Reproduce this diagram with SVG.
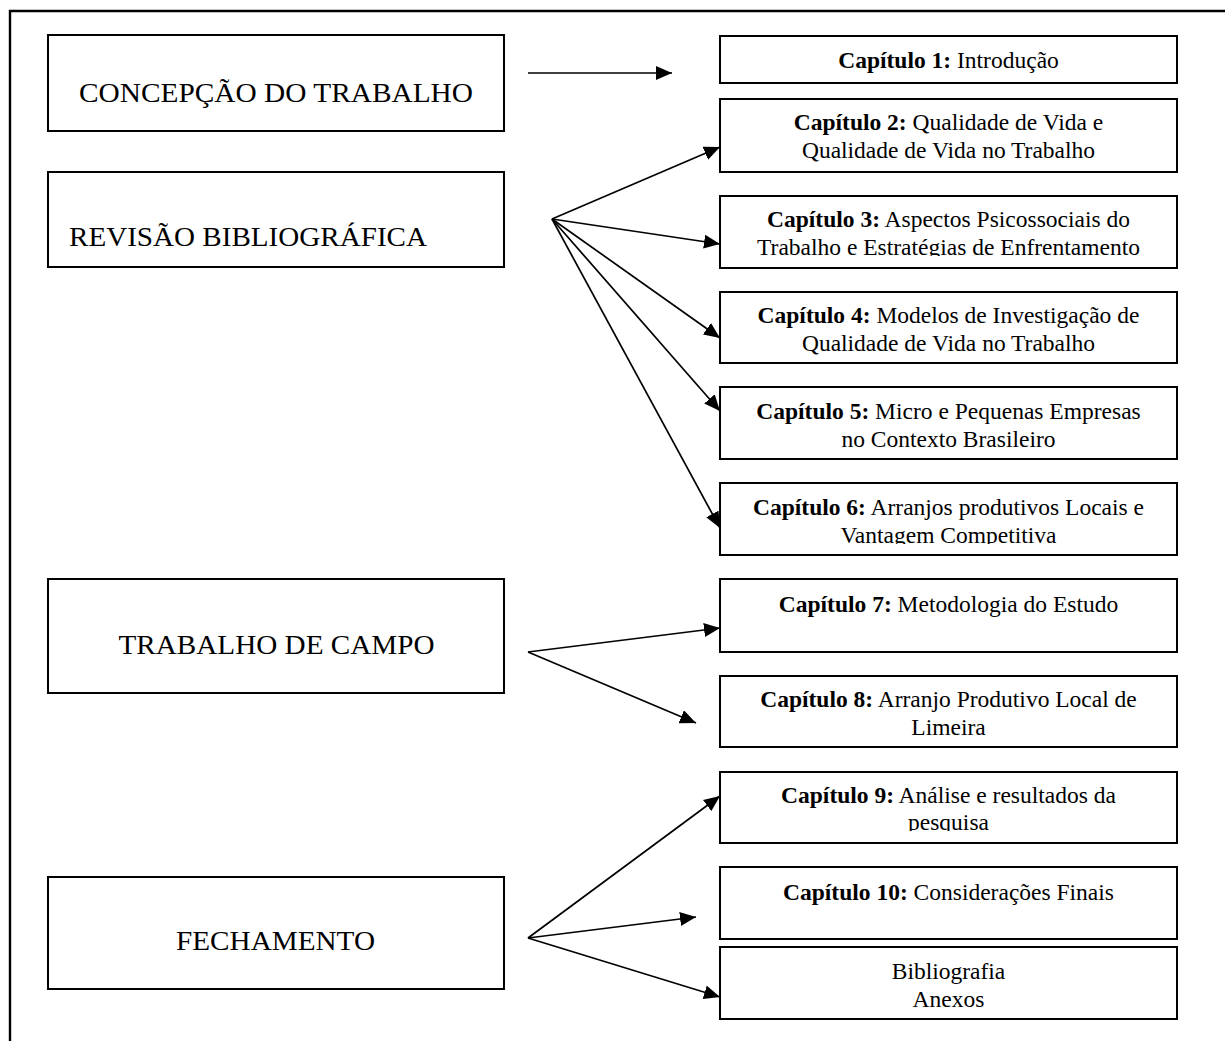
<svg xmlns="http://www.w3.org/2000/svg" width="1225" height="1041" viewBox="0 0 1225 1041">
<style>
.box{fill:#fff;stroke:#000;stroke-width:2}
.title{font-family:"Liberation Serif","Times New Roman",serif;font-size:27px;fill:#000}
.ch{font-family:"Liberation Serif","Times New Roman",serif;font-size:23.5px;text-anchor:middle;fill:#000}
.b{font-weight:bold}
.conn line{stroke:#000;stroke-width:1.7;marker-end:url(#ah)}
</style>
<defs>
<marker id="ah" viewBox="0 0 16 14" refX="16" refY="7" markerWidth="16" markerHeight="14" markerUnits="userSpaceOnUse" orient="auto">
<path d="M0,0 L16,7 L0,14 z" fill="#000"/>
</marker>
<clipPath id="clip3"><rect x="720" y="196" width="457" height="60"/></clipPath>
<clipPath id="clip6"><rect x="720" y="483" width="457" height="61"/></clipPath>
<clipPath id="clip9"><rect x="720" y="772" width="457" height="59"/></clipPath>
</defs>
<rect width="1225" height="1041" fill="#fff"/>
<path d="M10,1041 V11 H1225" fill="none" stroke="#000" stroke-width="2.4"/>

<g id="concepcao">
<rect class="box" x="48" y="35" width="456" height="96"/>
<text class="title" x="79" y="102" textLength="394" lengthAdjust="spacingAndGlyphs">CONCEPÇÃO DO TRABALHO</text>
</g>
<g id="revisao">
<rect class="box" x="48" y="172" width="456" height="95"/>
<text class="title" x="69" y="246" textLength="358" lengthAdjust="spacingAndGlyphs">REVISÃO BIBLIOGRÁFICA</text>
</g>
<g id="campo">
<rect class="box" x="48" y="579" width="456" height="114"/>
<text class="title" x="118.5" y="654" textLength="316" lengthAdjust="spacingAndGlyphs">TRABALHO DE CAMPO</text>
</g>
<g id="fechamento">
<rect class="box" x="48" y="877" width="456" height="112"/>
<text class="title" x="176" y="950" textLength="199" lengthAdjust="spacingAndGlyphs">FECHAMENTO</text>
</g>

<g id="cap1">
<rect class="box" x="720" y="36" width="457" height="47"/>
<text class="ch" x="948.5" y="68"><tspan class="b">Capítulo 1:</tspan> Introdução</text>
</g>
<g id="cap2">
<rect class="box" x="720" y="99" width="457" height="73"/>
<text class="ch" x="948.5" y="130"><tspan class="b">Capítulo 2:</tspan> Qualidade de Vida e</text>
<text class="ch" x="948.5" y="158">Qualidade de Vida no Trabalho</text>
</g>
<g id="cap3">
<rect class="box" x="720" y="196" width="457" height="72"/>
<g clip-path="url(#clip3)">
<text class="ch" x="948.5" y="227"><tspan class="b">Capítulo 3:</tspan> Aspectos Psicossociais do</text>
<text class="ch" x="948.5" y="255">Trabalho e Estratégias de Enfrentamento</text>
</g>
</g>
<g id="cap4">
<rect class="box" x="720" y="292" width="457" height="71"/>
<text class="ch" x="948.5" y="323"><tspan class="b">Capítulo 4:</tspan> Modelos de Investigação de</text>
<text class="ch" x="948.5" y="351">Qualidade de Vida no Trabalho</text>
</g>
<g id="cap5">
<rect class="box" x="720" y="387" width="457" height="72"/>
<text class="ch" x="948.5" y="419"><tspan class="b">Capítulo 5:</tspan> Micro e Pequenas Empresas</text>
<text class="ch" x="948.5" y="447">no Contexto Brasileiro</text>
</g>
<g id="cap6">
<rect class="box" x="720" y="483" width="457" height="72"/>
<g clip-path="url(#clip6)">
<text class="ch" x="948.5" y="515"><tspan class="b">Capítulo 6:</tspan> Arranjos produtivos Locais e</text>
<text class="ch" x="948.5" y="543">Vantagem Competitiva</text>
</g>
</g>
<g id="cap7">
<rect class="box" x="720" y="579" width="457" height="73"/>
<text class="ch" x="948.5" y="612"><tspan class="b">Capítulo 7:</tspan> Metodologia do Estudo</text>
</g>
<g id="cap8">
<rect class="box" x="720" y="676" width="457" height="71"/>
<text class="ch" x="948.5" y="707"><tspan class="b">Capítulo 8:</tspan> Arranjo Produtivo Local de</text>
<text class="ch" x="948.5" y="735">Limeira</text>
</g>
<g id="cap9">
<rect class="box" x="720" y="772" width="457" height="71"/>
<g clip-path="url(#clip9)">
<text class="ch" x="948.5" y="803"><tspan class="b">Capítulo 9:</tspan> Análise e resultados da</text>
<text class="ch" x="948.5" y="830">pesquisa</text>
</g>
</g>
<g id="cap10">
<rect class="box" x="720" y="867" width="457" height="72"/>
<text class="ch" x="948.5" y="900"><tspan class="b">Capítulo 10:</tspan> Considerações Finais</text>
</g>
<g id="biblio">
<rect class="box" x="720" y="947" width="457" height="72"/>
<text class="ch" x="948.5" y="979">Bibliografia</text>
<text class="ch" x="948.5" y="1007">Anexos</text>
</g>

<g id="connectors" class="conn">
<line x1="528" y1="73" x2="672" y2="73"/>
<line x1="552" y1="219" x2="720" y2="147"/>
<line x1="552" y1="219" x2="720" y2="244"/>
<line x1="552" y1="219" x2="720" y2="338"/>
<line x1="552" y1="219" x2="720" y2="411"/>
<line x1="552" y1="219" x2="720" y2="528"/>
<line x1="528" y1="652" x2="720" y2="628"/>
<line x1="528" y1="652" x2="696" y2="723"/>
<line x1="528" y1="938" x2="720" y2="796"/>
<line x1="528" y1="938" x2="696" y2="917"/>
<line x1="528" y1="938" x2="720" y2="997"/>
</g>
</svg>
